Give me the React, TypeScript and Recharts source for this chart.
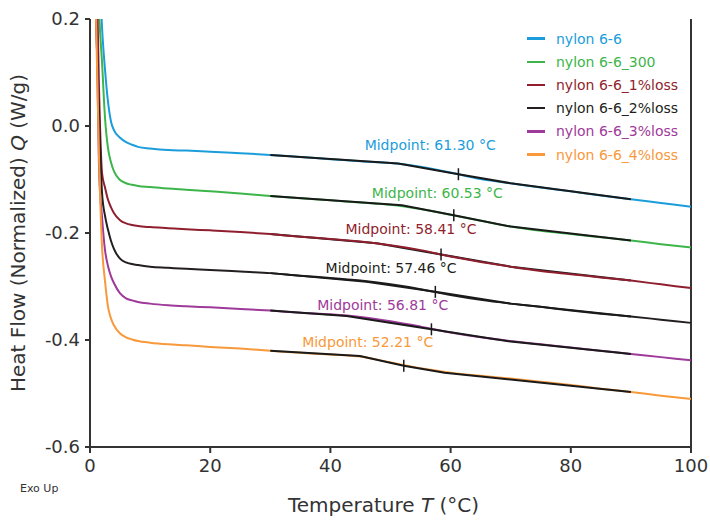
import React from "react";
import {
  LineChart,
  Line,
  XAxis,
  YAxis,
  Legend,
  ReferenceLine,
  ReferenceDot,
} from "recharts";

const FONT = '"DejaVu Sans", sans-serif';
const AXIS_COLOR = "#333333";
const TANGENT_COLOR = "#1a1a1a";

const seriesNames = [
  "nylon 6-6",
  "nylon 6-6_300",
  "nylon 6-6_1%loss",
  "nylon 6-6_2%loss",
  "nylon 6-6_3%loss",
  "nylon 6-6_4%loss",
];
const seriesColors = ["#1b9ddb", "#3db54a", "#8f1f2e", "#231f20", "#9e3a9a", "#f8993b"];

// temperature grid (°C) shared by all curves
const temps = [1, 1.5, 2, 2.5, 3, 3.5, 4, 5, 6, 7, 8, 10, 13, 16, 20, 25, 30, 35, 40, 45, 50, 55, 60, 65, 70, 75, 80, 85, 90, 95, 100];

// heat flow (W/g)
const nylon66 = [0.55, 0.32, 0.185, 0.105, 0.045, 0.008, -0.008, -0.022, -0.03, -0.035, -0.039, -0.042, -0.045, -0.046, -0.048, -0.051, -0.054, -0.058, -0.062, -0.066, -0.069, -0.076, -0.087, -0.099, -0.107, -0.115, -0.122, -0.13, -0.137, -0.144, -0.151];
const nylon66_300 = [0.45, 0.22, 0.12, 0.015, -0.042, -0.068, -0.085, -0.101, -0.107, -0.11, -0.112, -0.114, -0.117, -0.119, -0.122, -0.126, -0.131, -0.135, -0.139, -0.143, -0.147, -0.155, -0.166, -0.177, -0.188, -0.196, -0.202, -0.208, -0.214, -0.221, -0.227];
const nylon66_1 = [0.35, 0.07, -0.088, -0.115, -0.138, -0.152, -0.163, -0.176, -0.182, -0.185, -0.187, -0.189, -0.191, -0.193, -0.195, -0.198, -0.202, -0.207, -0.211, -0.216, -0.223, -0.232, -0.244, -0.254, -0.263, -0.271, -0.277, -0.283, -0.289, -0.296, -0.303];
const nylon66_2 = [0.2, 0.02, -0.125, -0.168, -0.194, -0.215, -0.23, -0.248, -0.255, -0.258, -0.26, -0.263, -0.265, -0.267, -0.269, -0.272, -0.275, -0.28, -0.284, -0.289, -0.296, -0.305, -0.316, -0.325, -0.332, -0.338, -0.345, -0.351, -0.356, -0.362, -0.368];
const nylon66_3 = [0.25, -0.08, -0.17, -0.232, -0.262, -0.281, -0.294, -0.313, -0.322, -0.326, -0.329, -0.332, -0.335, -0.337, -0.339, -0.342, -0.345, -0.349, -0.352, -0.357, -0.365, -0.375, -0.386, -0.395, -0.402, -0.408, -0.414, -0.42, -0.426, -0.432, -0.438];
const nylon66_4 = [0.2, -0.06, -0.225, -0.29, -0.338, -0.36, -0.373, -0.388, -0.395, -0.399, -0.402, -0.405, -0.408, -0.41, -0.413, -0.416, -0.42, -0.424, -0.427, -0.431, -0.442, -0.453, -0.461, -0.467, -0.472, -0.478, -0.484, -0.491, -0.497, -0.504, -0.51];
const seriesValues = [nylon66, nylon66_300, nylon66_1, nylon66_2, nylon66_3, nylon66_4];

// glass transition analysis: tangent construction, midpoint is index 2
const midpoints = [61.3, 60.53, 58.41, 57.46, 56.81, 52.21];
const tangentTemps = [
  [30, 51.3, 61.3, 70, 90],
  [30, 51.9, 60.53, 70, 90],
  [30, 47.7, 58.41, 70, 90],
  [30, 46, 57.46, 70, 90],
  [30, 42.7, 56.81, 70, 90],
  [30, 44.9, 52.21, 59, 90],
];
const tangentFlows = [
  [-0.054, -0.07, -0.09, -0.107, -0.137],
  [-0.131, -0.148, -0.167, -0.188, -0.214],
  [-0.202, -0.219, -0.24, -0.263, -0.289],
  [-0.275, -0.291, -0.31, -0.332, -0.356],
  [-0.345, -0.355, -0.38, -0.403, -0.426],
  [-0.42, -0.43, -0.448, -0.461, -0.497],
];
// where the "Midpoint" annotations sit (data units)
const labelTemps = [56.6, 57.8, 53.4, 50.1, 48.7, 46.2];
const labelFlows = [-0.036, -0.125, -0.193, -0.266, -0.335, -0.403];

const xTicks = [0, 20, 40, 60, 80, 100];
const yTicks = [0.2, 0, -0.2, -0.4, -0.6];

const rows = temps.map((t, i) => {
  const row: Record<string, number> = { t };
  seriesValues.forEach((vals, s) => {
    row[`s${s}`] = vals[i];
  });
  return row;
});

const tangentData = tangentTemps.map((ts, s) =>
  ts.map((t, i) => ({ t, q: tangentFlows[s][i] })),
);

function MidpointTick(props: any) {
  const { cx, cy, index } = props;
  if (index !== 2 || cx == null || cy == null) return <g key={`tk-${index}`} />;
  return (
    <line
      key={`tk-${index}`}
      x1={cx}
      x2={cx}
      y1={cy - 6}
      y2={cy + 6}
      stroke={TANGENT_COLOR}
      strokeWidth={1.5}
    />
  );
}

function LegendBox() {
  return (
    <div style={{ fontFamily: FONT, fontSize: 14 }}>
      {seriesNames.map((name, i) => (
        <div key={name} style={{ display: "flex", alignItems: "center", height: 23.2 }}>
          <span
            style={{
              display: "inline-block",
              width: 18,
              height: 2.5,
              background: seriesColors[i],
              marginRight: 11,
            }}
          />
          <span style={{ color: seriesColors[i], whiteSpace: "nowrap" }}>{name}</span>
        </div>
      ))}
    </div>
  );
}

function YTitle(props: any) {
  const vb = props.viewBox;
  const x = vb.x + 18;
  const y = vb.y + vb.height / 2;
  return (
    <text
      x={x}
      y={y}
      transform={`rotate(-90 ${x} ${y})`}
      textAnchor="middle"
      dominantBaseline="central"
      fontFamily={FONT}
      fontSize={20}
      fill={AXIS_COLOR}
    >
      Heat Flow (Normalized) <tspan fontStyle="italic">Q</tspan> (W/g)
    </text>
  );
}

function XTitle(props: any) {
  const vb = props.viewBox;
  return (
    <g>
      <text
        x={vb.x + vb.width / 2 - 7}
        y={vb.y + 58}
        textAnchor="middle"
        dominantBaseline="central"
        fontFamily={FONT}
        fontSize={20}
        fill={AXIS_COLOR}
      >
        Temperature <tspan fontStyle="italic">T</tspan> (°C)
      </text>
      <text
        x={20}
        y={vb.y + 41}
        dominantBaseline="central"
        fontFamily={FONT}
        fontSize={11}
        fill={AXIS_COLOR}
      >
        Exo Up
      </text>
    </g>
  );
}

export default function App() {
  const tangentLine = (s: number) => (
    <Line
      key={`tan-${s}`}
      data={tangentData[s]}
      dataKey="q"
      type="linear"
      stroke={TANGENT_COLOR}
      strokeWidth={2}
      dot={MidpointTick}
      activeDot={false}
      legendType="none"
      isAnimationActive={false}
    />
  );

  return (
    <div style={{ position: "absolute", left: 0, top: 0, width: 710, height: 522, background: "#fff" }}>
      <LineChart
        width={710}
        height={522}
        data={rows}
        margin={{ top: 19, right: 19, bottom: 0, left: 0 }}
      >
        <XAxis
          dataKey="t"
          type="number"
          domain={[0, 100]}
          ticks={xTicks}
          height={75}
          tickSize={6}
          tickMargin={6}
          stroke={AXIS_COLOR}
          strokeWidth={2}
          tick={{ fill: AXIS_COLOR, fontSize: 18, fontFamily: FONT }}
          label={{ content: XTitle }}
        />
        <YAxis
          type="number"
          domain={[-0.6, 0.2]}
          ticks={yTicks}
          allowDataOverflow
          width={90}
          tickSize={5}
          tickMargin={5}
          stroke={AXIS_COLOR}
          strokeWidth={2}
          tickFormatter={(v: number) => v.toFixed(1)}
          tick={{ fill: AXIS_COLOR, fontSize: 18, fontFamily: FONT }}
          label={{ content: YTitle }}
        />
        <ReferenceLine x={100} stroke={AXIS_COLOR} strokeWidth={2} />
        <Legend
          layout="vertical"
          align="center"
          verticalAlign="middle"
          wrapperStyle={{ top: 27, left: 527, width: 180 }}
          content={LegendBox}
        />
        {/* the 1%loss trace sits on top of its own tangents */}
        {tangentLine(2)}
        {seriesNames.map((name, s) => (
          <Line
            key={name}
            name={name}
            dataKey={`s${s}`}
            type="monotone"
            stroke={seriesColors[s]}
            strokeWidth={2}
            dot={false}
            activeDot={false}
            isAnimationActive={false}
          />
        ))}
        {[0, 1, 3, 4, 5].map((s) => tangentLine(s))}
        {midpoints.map((m, s) => (
          <ReferenceDot
            key={`lbl-${s}`}
            x={labelTemps[s]}
            y={labelFlows[s]}
            r={0}
            shape={(p: any) => (
              <text
                x={p.cx}
                y={p.cy}
                textAnchor="middle"
                dominantBaseline="central"
                fontFamily={FONT}
                fontSize={14}
                fill={seriesColors[s]}
              >
                {`Midpoint: ${m.toFixed(2)} °C`}
              </text>
            )}
          />
        ))}
      </LineChart>
    </div>
  );
}
